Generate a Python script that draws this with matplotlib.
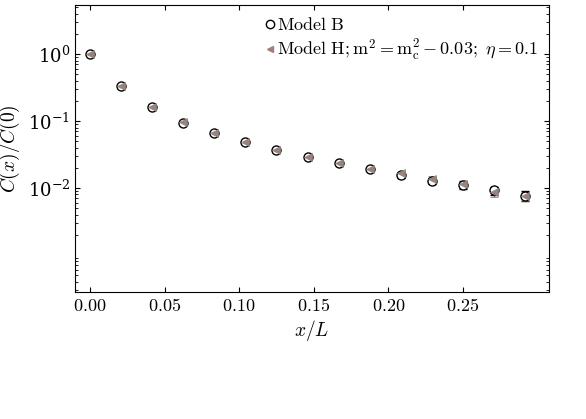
import numpy as np
import matplotlib
matplotlib.use("Agg")
import matplotlib.pyplot as plt
from matplotlib.lines import Line2D

plt.rcParams["font.family"] = "serif"
plt.rcParams["font.serif"] = ["DejaVu Serif"]
plt.rcParams["mathtext.fontset"] = "cm"

x = np.arange(15) / 48.0
model_b = [1.0, 0.33, 0.16, 0.095, 0.067, 0.048, 0.037, 0.029, 0.024, 0.019,
           0.0155, 0.0128, 0.0112, 0.0092, 0.0076]
model_b_err = [0.01, 0.004, 0.002, 0.0012, 0.0009, 0.0007, 0.0006, 0.0005, 0.0005, 0.0006,
               0.0012, 0.0012, 0.0016, 0.0013, 0.0013]
model_h = [1.0, 0.33, 0.16, 0.096, 0.067, 0.048, 0.037, 0.029, 0.024, 0.0195,
           0.0165, 0.0135, 0.0115, 0.0088, 0.0076]
model_h_err = [0.01, 0.004, 0.002, 0.0012, 0.0009, 0.0007, 0.0006, 0.0005, 0.0005, 0.0007,
               0.001, 0.0015, 0.0012, 0.0015, 0.0012]

fig = plt.figure(figsize=(5.86, 4.19), dpi=100)
ax = fig.add_axes([75/586, 1-292/419, 474/586, 287/419])

ax.errorbar(x, model_b, yerr=model_b_err, fmt="o", mfc="white", mec="black",
            mew=1.0, ecolor="black", ms=6.5, capsize=3, elinewidth=1)
ax.errorbar(x, model_h, yerr=model_h_err, fmt="<", color="#a08078", mec="#888888",
            mew=0.5, ecolor="#707070", ms=6, capsize=3, elinewidth=1)

handles = [Line2D([], [], ls="none", marker="o", mfc="white", mec="black", ms=6),
           Line2D([], [], ls="none", marker="<", color="#a08078", ms=5)]
labels = [r"$\mathrm{Model\ B}$",
          r"$\mathrm{Model\ H};\mathrm{m}^2=\mathrm{m}_\mathrm{c}^2-0.03;\ \eta=0.1$"]

ax.set_yscale("log")
ax.set_ylim(2.8e-4, 5.4)
ax.set_xlim(-0.01, 0.3076)
ax.set_xticks([0, 0.05, 0.1, 0.15, 0.2, 0.25])
ax.set_xticklabels(["$0.00$", "$0.05$", "$0.10$", "$0.15$", "$0.20$", "$0.25$"])
ax.set_yticks([1e-2, 1e-1, 1])
ax.tick_params(which="both", direction="in", top=True, right=True, labelsize=13)
ax.set_xlabel("$x/L$", fontsize=14, labelpad=2)
ax.set_ylabel("$C(x)/C(0)$", fontsize=14)
ax.legend(handles, labels, loc="upper right", frameon=False, fontsize=13,
          handletextpad=0.0, borderaxespad=0.2, labelspacing=0.2, handlelength=0.8)

fig.savefig("out.png", dpi=100)
